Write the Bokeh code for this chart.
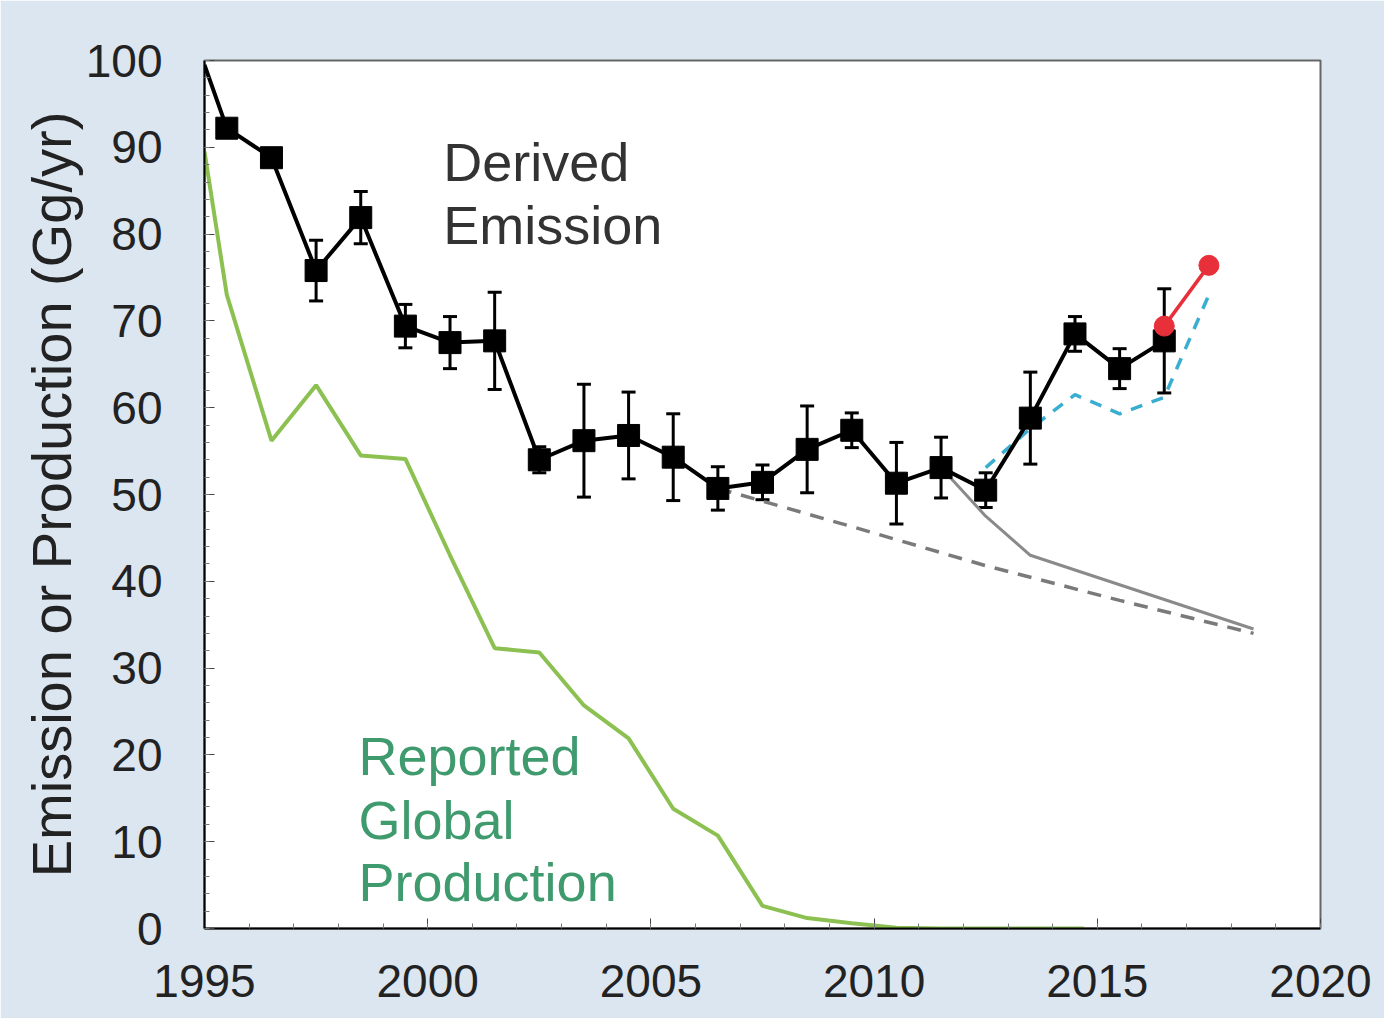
import numpy as np
from bokeh.plotting import figure, ColumnDataSource
from bokeh.models import Whisker, TeeHead, SingleIntervalTicker, Range1d
from bokeh.embed import file_html
from bokeh.resources import INLINE

# derived emission (annual means, plotted at mid-year)
years = [1995.5, 1996.5, 1997.5, 1998.5, 1999.5, 2000.5, 2001.5, 2002.5, 2003.5,
         2004.5, 2005.5, 2006.5, 2007.5, 2008.5, 2009.5, 2010.5, 2011.5, 2012.5,
         2013.5, 2014.5, 2015.5, 2016.5]
emission = [92.2, 88.8, 75.8, 81.9, 69.4, 67.5, 67.7, 54.0, 56.2, 56.8, 54.3,
            50.7, 51.4, 55.2, 57.4, 51.3, 53.1, 50.5, 58.8, 68.5, 64.5, 67.7]
err = [0.8, 0.8, 3.5, 3.0, 2.5, 3.0, 5.6, 1.5, 6.5, 5.0, 5.0, 2.5, 2.0, 5.0,
       2.0, 4.7, 3.5, 2.0, 5.3, 2.0, 2.3, 6.0]
start_year = 1995.0
start_value = 99.5

# reported global production
prod_years = [1995.0, 1995.5, 1996.5, 1997.5, 1998.5, 1999.5, 2000.5, 2001.5, 2002.5,
              2003.5, 2004.5, 2005.5, 2006.5, 2007.5, 2008.5, 2009.5, 2010.5,
              2011.5, 2012.5, 2013.5, 2014.7]
production = [89.5, 73.0, 56.2, 62.6, 54.5, 54.1, 43.0, 32.3, 31.8, 25.7, 21.9,
              13.8, 10.7, 2.6, 1.2, 0.6, 0.1, 0.0, 0.0, 0.0, 0.0]

# projections
dash_years = [2006.5, 2009.5, 2012.5, 2015.5, 2018.5]
dash_values = [50.7, 46.3, 41.8, 37.8, 34.0]
solid_years = [2011.5, 2012.5, 2013.5, 2018.5]
solid_values = [53.1, 47.5, 43.0, 34.5]

# alternative estimate (cyan)
alt_years = [2012.5, 2013.5, 2014.5, 2015.5, 2016.5, 2017.5]
alt_values = [53.1, 57.6, 61.5, 59.3, 61.2, 73.0]

# latest values (red)
red_years = [2016.5, 2017.5]
red_values = [69.4, 76.4]

FONT = "Liberation Sans"

p = figure(width=1384, height=1018, output_backend="svg", toolbar_location=None,
           x_range=Range1d(1995, 2020), y_range=Range1d(0, 100),
           min_border_left=204, min_border_right=64, min_border_top=60,
           min_border_bottom=90)
p.border_fill_color = "#dce6f1"
p.background_fill_color = "white"
p.outline_line_color = "#666666"
p.outline_line_width = 2
p.xgrid.visible = False
p.ygrid.visible = False

p.xaxis.ticker = SingleIntervalTicker(interval=5, num_minor_ticks=5)
p.yaxis.ticker = SingleIntervalTicker(interval=10, num_minor_ticks=5)
for ax in (p.xaxis, p.yaxis):
    ax.axis_line_color = "black"
    ax.axis_line_width = 2
    ax.major_tick_in = 10
    ax.major_tick_out = 0
    ax.minor_tick_in = 5
    ax.minor_tick_out = 0
    ax.major_tick_line_color = "#444444"
    ax.minor_tick_line_color = "#777777"
    ax.major_label_text_font = FONT
    ax.major_label_text_font_size = "46px"
    ax.major_label_text_color = "#222222"
p.xaxis.major_label_standoff = 36
p.yaxis.major_label_standoff = 42
p.yaxis.axis_label = "Emission or Production (Gg/yr)"
p.yaxis.axis_label_text_font = FONT
p.yaxis.axis_label_text_font_size = "56px"
p.yaxis.axis_label_text_font_style = "normal"
p.yaxis.axis_label_text_color = "#222222"
p.yaxis.axis_label_standoff = 0

# green production line
p.line(prod_years, production, line_color="#8cc152", line_width=4)

# gray projections
p.line(dash_years, dash_values, line_color="#7a7a7a", line_width=3.5, line_dash="14 10")
p.line(solid_years, solid_values, line_color="#8a8a8a", line_width=3)

# cyan dashed
p.line(alt_years, alt_values, line_color="#3aaed0", line_width=3.5, line_dash="12 10")

# derived emission with error bars
src = ColumnDataSource(dict(x=years, y=emission,
                            lower=[v - e for v, e in zip(emission, err)],
                            upper=[v + e for v, e in zip(emission, err)]))
p.add_layout(Whisker(base="x", lower="lower", upper="upper", source=src,
                     line_color="black", line_width=3,
                     lower_head=TeeHead(size=14, line_width=3, line_color="black"),
                     upper_head=TeeHead(size=14, line_width=3, line_color="black")))
p.line([start_year] + years, [start_value] + emission, line_color="black", line_width=4)
p.scatter("x", "y", source=src, marker="square", size=22, color="black")

# red latest
p.line(red_years, red_values, line_color="#e8303a", line_width=3.5)
p.scatter(red_years, red_values, marker="circle", size=20, color="#e8303a")

# annotations
p.text(x=[2000.35, 2000.35], y=[88.3, 81.0], text=["Derived", "Emission"],
       text_font={"value": FONT}, text_font_size="54px", text_color="#333333",
       text_baseline="middle")
p.text(x=[1998.45, 1998.45, 1998.45], y=[19.9, 12.5, 5.3],
       text=["Reported", "Global", "Production"],
       text_font={"value": FONT}, text_font_size="54px", text_color="#3f9a6e",
       text_baseline="middle")

open("out.html", "w").write(file_html(p, INLINE))
